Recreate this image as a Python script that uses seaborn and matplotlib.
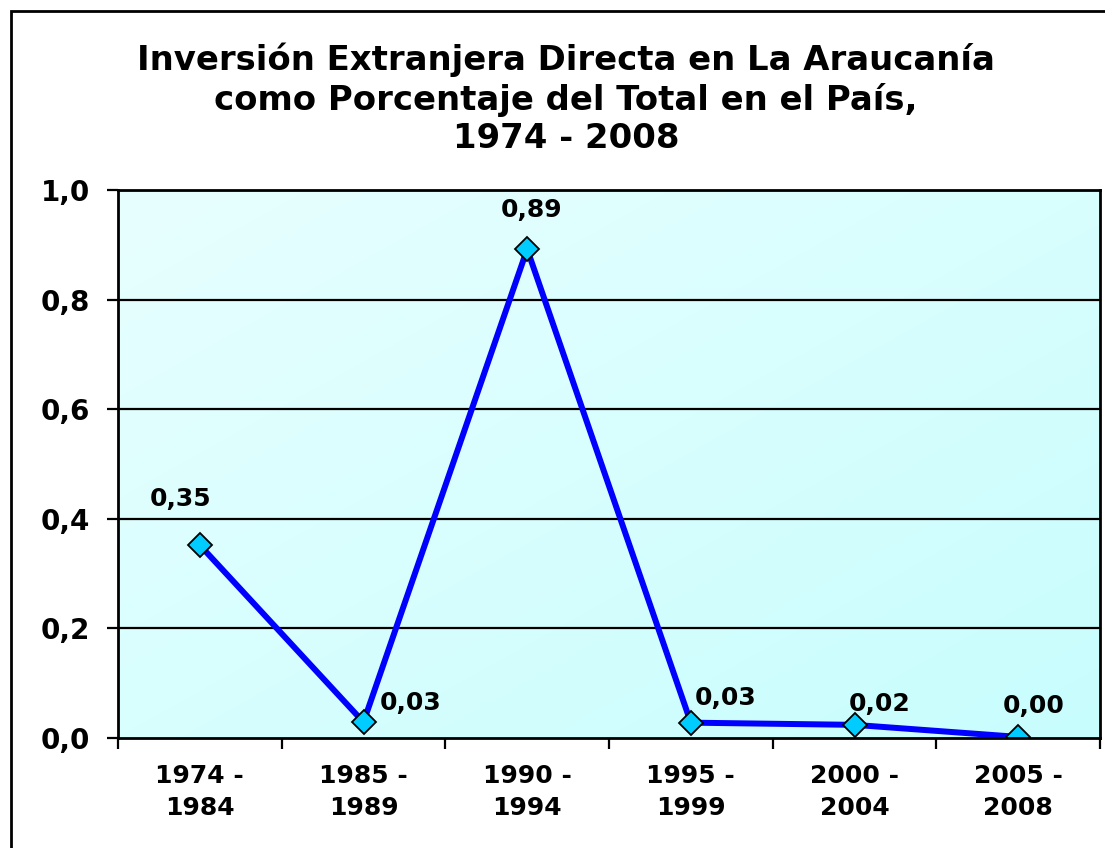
import numpy as np
import pandas as pd
import seaborn as sns
import matplotlib
matplotlib.use("Agg")
import matplotlib.pyplot as plt
from matplotlib.patches import Rectangle
from matplotlib.colors import LinearSegmentedColormap

# ---- data ----
periods = ["1974 -\n1984", "1985 -\n1989", "1990 -\n1994", "1995 -\n1999", "2000 -\n2004", "2005 -\n2008"]
values = [0.352, 0.029, 0.892, 0.028, 0.024, 0.002]
value_labels = ["0,35", "0,03", "0,89", "0,03", "0,02", "0,00"]
yticks = [0.0, 0.2, 0.4, 0.6, 0.8, 1.0]
ytick_labels = ["0,0", "0,2", "0,4", "0,6", "0,8", "1,0"]
title = "Inversión Extranjera Directa en La Araucanía\ncomo Porcentaje del Total en el País,\n1974 - 2008"

# label offsets in points (placement only)
label_offsets = [(-14, 33), (34, 14), (3, 28), (25, 18), (18, 15), (11, 22)]

sns.set_theme(style="white")
plt.rcParams["font.family"] = ["DejaVu Sans"]
plt.rcParams["font.weight"] = "bold"
plt.rcParams["text.color"] = "black"
plt.rcParams["xtick.color"] = "black"
plt.rcParams["ytick.color"] = "black"

fig = plt.figure(figsize=(11.05, 8.48), dpi=100)
fig.patch.set_facecolor("white")
ax = fig.add_axes([118/1105, 1-738/848, (1100-118)/1105, (738-190)/848])

# gradient background (light at top-left, more cyan toward bottom-right)
gx, gy = np.meshgrid(np.linspace(0, 1, 200), np.linspace(0, 1, 200))
g = (gx + gy) / 2.0
cmap = LinearSegmentedColormap.from_list("bg", ["#E8FFFF", "#C8FDFD"])
ax.imshow(g, extent=[0, 1, 0, 1], transform=ax.transAxes, cmap=cmap,
          aspect="auto", zorder=0, origin="upper")

df = pd.DataFrame({"pos": np.arange(len(periods)), "val": values})
sns.lineplot(data=df, x="pos", y="val", ax=ax, color="#0000FF", linewidth=4.3,
             marker="D", markersize=12, markerfacecolor="#00CCFF",
             markeredgecolor="black", markeredgewidth=1.3, zorder=5)

ax.set_xlim(-0.5, len(periods) - 0.5)
ax.set_ylim(0, 1.0)
ax.set_xlabel("")
ax.set_ylabel("")

# gridlines
for yv in yticks[1:]:
    ax.axhline(yv, color="black", linewidth=1.6, zorder=2)

ax.set_yticks(yticks)
ax.set_yticklabels(ytick_labels, fontsize=20, fontweight="bold", color="black")
ax.set_xticks(np.arange(-0.5, len(periods)), minor=False)
ax.set_xticklabels([])
ax.set_xticks(np.arange(len(periods)), minor=True)
ax.set_xticklabels(periods, minor=True, fontsize=18, fontweight="bold",
                   linespacing=1.4, color="black")
ax.tick_params(axis="x", which="major", direction="out", length=8, width=1.6, color="black")
ax.tick_params(axis="x", which="minor", length=0, pad=19)
ax.tick_params(axis="y", direction="out", length=8, width=1.6, color="black", pad=12)
ax.tick_params(axis="both", which="both", left=True, bottom=True)

for s in ax.spines.values():
    s.set_color("black")
    s.set_linewidth(2)
    s.set_visible(True)
    s.set_zorder(6)

for i, (v, lab) in enumerate(zip(values, value_labels)):
    dx, dy = label_offsets[i]
    ax.annotate(lab, (i, v), xytext=(dx, dy), textcoords="offset points",
                ha="center", va="center", fontsize=18, fontweight="bold",
                color="black", zorder=7)

fig.text(566/1105, 1-99/848, title, ha="center", va="center", fontsize=24.4,
         fontweight="bold", linespacing=1.2, color="black")

# outer frame
fig.patches.append(Rectangle((11/1105, -0.1), 1.2, (848-11)/848 + 0.1,
                             transform=fig.transFigure, fill=False,
                             edgecolor="black", linewidth=2))

fig.savefig("out.png", dpi=100)
